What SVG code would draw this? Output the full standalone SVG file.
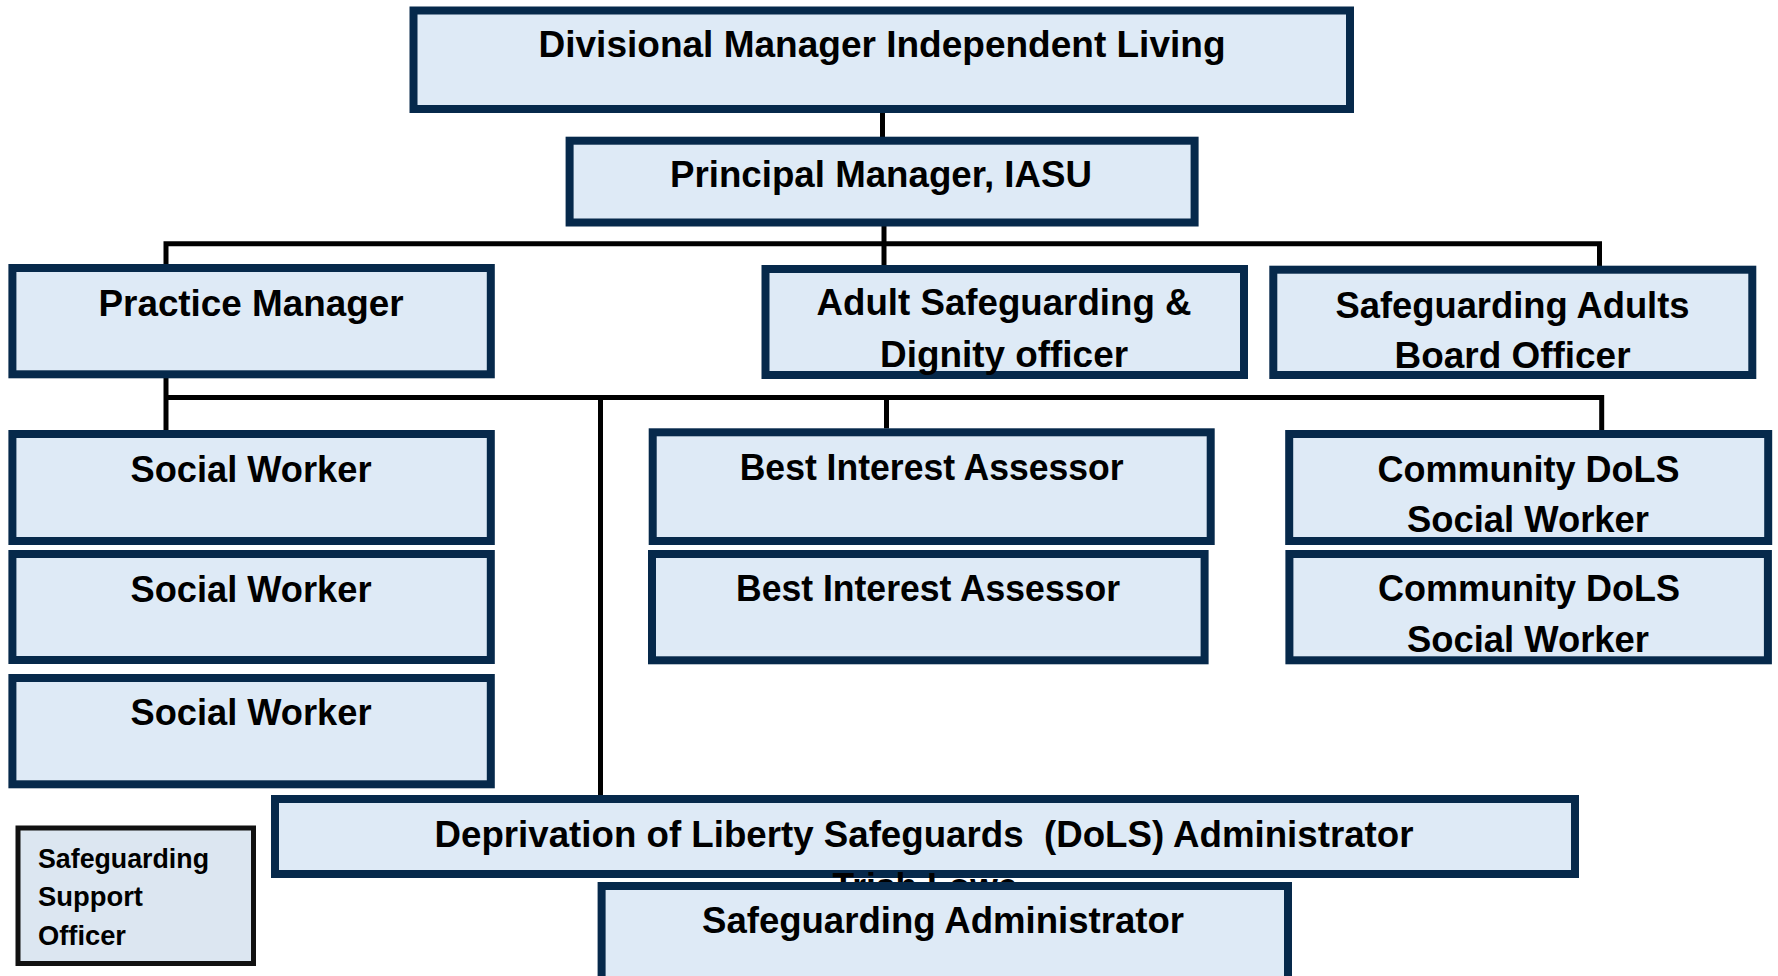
<svg xmlns="http://www.w3.org/2000/svg" width="1778" height="976" viewBox="0 0 1778 976">
<style>
.box{fill:#DEEAF6;stroke:#06294B;stroke-width:8}
.sso{fill:#DCE6F1;stroke:#111111;stroke-width:5}
.t{font-family:"Liberation Sans",Arial,sans-serif;font-weight:bold;font-size:36px;fill:#000;text-anchor:middle}
.s{font-family:"Liberation Sans",Arial,sans-serif;font-weight:bold;font-size:27px;fill:#000}
.c{fill:none;stroke:#000;stroke-width:5;stroke-linejoin:miter}
</style>
<rect width="1778" height="976" fill="#FFFFFF"/>
<g id="connectors">
<path class="c" d="M882.5,113 V137"/>
<path class="c" d="M884,226 V265"/>
<path class="c" d="M166,265 V243.8 H1599.5 V266"/>
<path class="c" d="M166,378 V430"/>
<path class="c" d="M166,397.5 H1601.7 V430"/>
<path class="c" d="M886.5,397.5 V428.5"/>
<path class="c" d="M600.5,397.5 V795"/>
</g>
<g id="divisional-manager">
<rect class="box" x="413.5" y="10.5" width="936.5" height="98.5"/>
<text class="t" x="882" y="57" textLength="687" lengthAdjust="spacingAndGlyphs">Divisional Manager Independent Living</text>
</g>
<g id="principal-manager">
<rect class="box" x="569.6" y="140.7" width="625" height="81.8"/>
<text class="t" x="881" y="187" textLength="422" lengthAdjust="spacingAndGlyphs">Principal Manager, IASU</text>
</g>
<g id="practice-manager">
<rect class="box" x="12.4" y="268" width="478.4" height="106.3"/>
<text class="t" x="251" y="316" textLength="305" lengthAdjust="spacingAndGlyphs">Practice Manager</text>
</g>
<g id="adult-safeguarding-dignity-officer">
<rect class="box" x="765.5" y="269" width="478.5" height="106"/>
<text class="t" x="1004" y="315" textLength="375" lengthAdjust="spacingAndGlyphs">Adult Safeguarding &amp;</text>
<text class="t" x="1004" y="367" textLength="248" lengthAdjust="spacingAndGlyphs">Dignity officer</text>
</g>
<g id="safeguarding-adults-board-officer">
<rect class="box" x="1273.3" y="269.7" width="479" height="105.3"/>
<text class="t" x="1512.5" y="318" textLength="354" lengthAdjust="spacingAndGlyphs">Safeguarding Adults</text>
<text class="t" x="1512.5" y="368" textLength="236" lengthAdjust="spacingAndGlyphs">Board Officer</text>
</g>
<g id="social-worker-1">
<rect class="box" x="12.4" y="434" width="478.4" height="107"/>
<text class="t" x="251" y="481.7" textLength="241" lengthAdjust="spacingAndGlyphs">Social Worker</text>
</g>
<g id="social-worker-2">
<rect class="box" x="12.4" y="554" width="478.4" height="106"/>
<text class="t" x="251" y="601.7" textLength="241" lengthAdjust="spacingAndGlyphs">Social Worker</text>
</g>
<g id="social-worker-3">
<rect class="box" x="12.4" y="678" width="478.4" height="106.3"/>
<text class="t" x="251" y="725" textLength="241" lengthAdjust="spacingAndGlyphs">Social Worker</text>
</g>
<g id="best-interest-assessor-1">
<rect class="box" x="652.7" y="432.3" width="558" height="108.7"/>
<text class="t" x="931.7" y="480" textLength="384" lengthAdjust="spacingAndGlyphs">Best Interest Assessor</text>
</g>
<g id="best-interest-assessor-2">
<rect class="box" x="652" y="554" width="552.6" height="106.3"/>
<text class="t" x="928" y="600.7" textLength="384" lengthAdjust="spacingAndGlyphs">Best Interest Assessor</text>
</g>
<g id="community-dols-social-worker-1">
<rect class="box" x="1289.2" y="434" width="479" height="107"/>
<text class="t" x="1528.5" y="481.7" textLength="302" lengthAdjust="spacingAndGlyphs">Community DoLS</text>
<text class="t" x="1528" y="531.7" textLength="242" lengthAdjust="spacingAndGlyphs">Social Worker</text>
</g>
<g id="community-dols-social-worker-2">
<rect class="box" x="1289.4" y="554" width="478.5" height="106.3"/>
<text class="t" x="1529" y="600.7" textLength="302" lengthAdjust="spacingAndGlyphs">Community DoLS</text>
<text class="t" x="1528" y="651.7" textLength="242" lengthAdjust="spacingAndGlyphs">Social Worker</text>
</g>
<g id="safeguarding-support-officer">
<rect class="sso" x="18" y="828" width="235.5" height="135.5"/>
<text class="s" x="38" y="868" textLength="171" lengthAdjust="spacingAndGlyphs">Safeguarding</text>
<text class="s" x="38" y="906" textLength="105" lengthAdjust="spacingAndGlyphs">Support</text>
<text class="s" x="38" y="945" textLength="88" lengthAdjust="spacingAndGlyphs">Officer</text>
</g>
<g id="dols-administrator">
<rect class="box" x="275" y="799" width="1300" height="75"/>
<text class="t" x="924" y="847" textLength="979" lengthAdjust="spacingAndGlyphs" xml:space="preserve">Deprivation of Liberty Safeguards  (DoLS) Administrator</text>
<text class="t" x="925" y="899" textLength="185" lengthAdjust="spacingAndGlyphs">Trish Lowe</text>
</g>
<g id="safeguarding-administrator">
<rect class="box" x="601.6" y="886" width="686.4" height="120"/>
<text class="t" x="943" y="933" textLength="482" lengthAdjust="spacingAndGlyphs">Safeguarding Administrator</text>
</g>
</svg>
